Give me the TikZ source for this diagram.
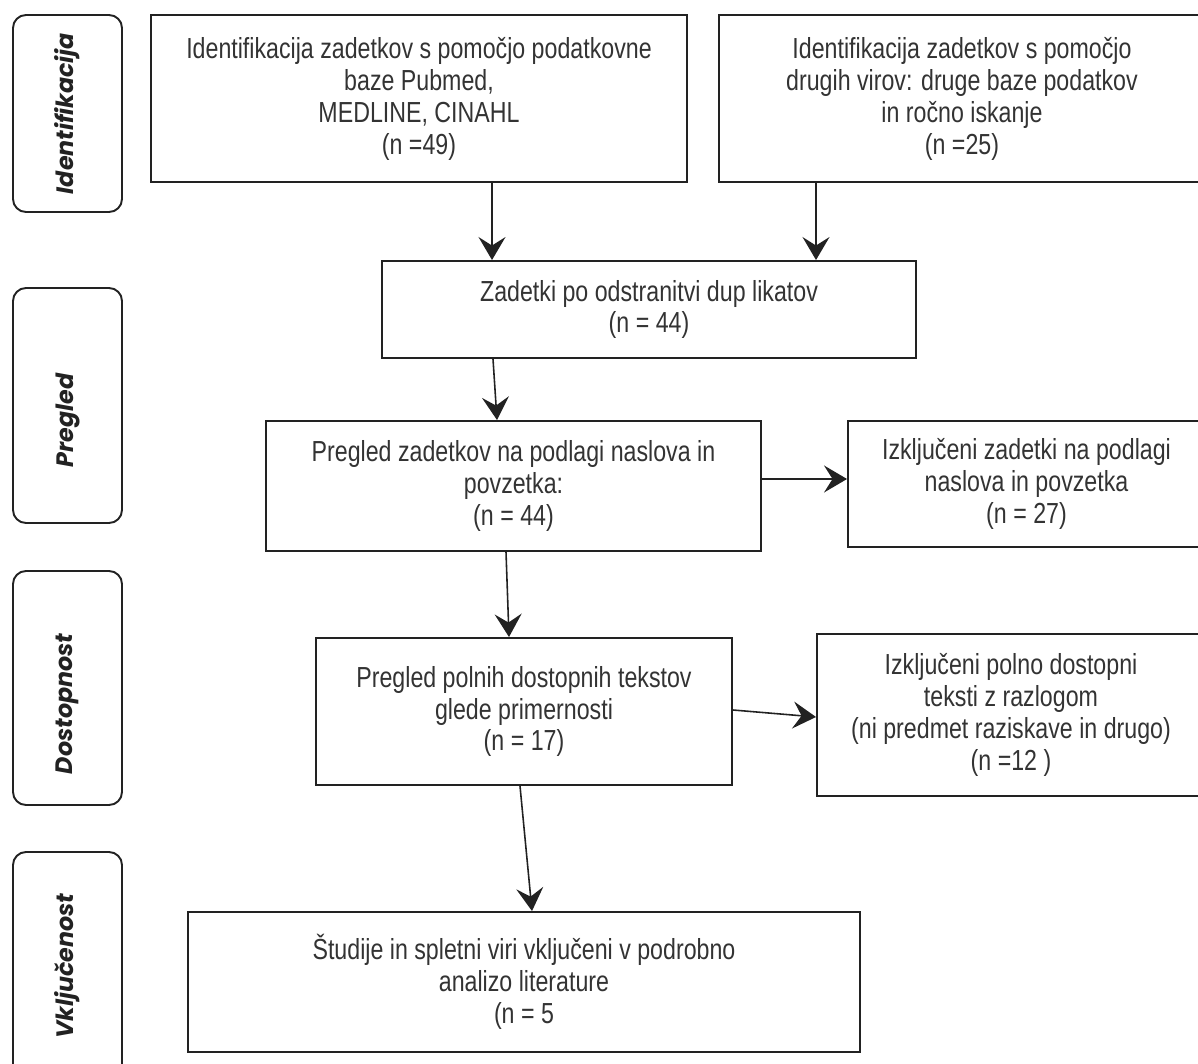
\documentclass[tikz,border=0pt]{standalone}
\usepackage{fontspec}
\setmainfont[FakeStretch=0.8]{Liberation Sans}
\newfontfamily\fazafont{Poppins}
\usetikzlibrary{arrows.meta}
\definecolor{crta}{HTML}{222222}
\definecolor{besedilo}{HTML}{333333}

\begin{document}
\begin{tikzpicture}[
    okvir/.style={draw=crta, line width=1.1pt, text=besedilo, align=center, inner sep=0pt, font=\fontsize{16.5}{18.2}\selectfont},
    faza/.style={draw=crta, line width=1.1pt, rounded corners=0.26cm, rotate=90, inner sep=0pt, minimum height=2.18cm, text=crta, font=\fazafont\bfseries\itshape\fontsize{13.5}{16}\selectfont},
    puscica/.style={draw=crta, line width=0.9pt, -{Stealth[length=4.6mm,width=5.4mm,inset=1.7mm]}}
]
\useasboundingbox (0,0) rectangle (23.96,-21.28);
%faze
\node[faza, minimum width=3.94cm] (identifikacija) at (1.35,-2.27) {Identifikacija};
\node[faza, minimum width=4.7cm] (pregled) at (1.35,-8.11) {Pregled\kern0.6cm};
\node[faza, minimum width=4.68cm] (dostopnost) at (1.35,-13.76) {Dostopnost\kern0.64cm};
\node[faza, minimum width=4.56cm] (vkljucenost) at (1.35,-19.32) {Vključenost};
%okvirji
\node[okvir, minimum width=10.72cm, minimum height=3.34cm] (baze) at (8.38,-1.97) {Identifikacija zadetkov s pomočjo podatkovne\\baze Pubmed,\\MEDLINE, CINAHL\\(n =49)};
\node[okvir, minimum width=9.72cm, minimum height=3.34cm] (drugiviri) at (19.24,-1.97) {Identifikacija zadetkov s pomočjo\\drugih virov: druge baze podatkov\\in ročno iskanje\\(n =25)};
\node[okvir, minimum width=10.68cm, minimum height=1.94cm] (duplikati) at (12.98,-6.19) {Zadetki po odstranitvi dup likatov\\(n = 44)};
\node[okvir, minimum width=9.9cm, minimum height=2.6cm] (naslovi) at (10.27,-9.72) {Pregled zadetkov na podlagi naslova in\\povzetka:\\(n = 44)};
\node[okvir, minimum width=7.14cm, minimum height=2.52cm] (izkljuceni) at (20.53,-9.68) {Izključeni zadetki na podlagi\\naslova in povzetka\\(n = 27)};
\node[okvir, minimum width=8.32cm, minimum height=2.94cm] (polnibesedila) at (10.48,-14.23) {Pregled polnih dostopnih tekstov\\glede primernosti\\(n = 17)};
\node[okvir, minimum width=7.76cm, minimum height=3.24cm] (izkljucenipolni) at (20.22,-14.3) {Izključeni polno dostopni\\teksti z razlogom\\(ni predmet raziskave in drugo)\\(n =12 )};
\node[okvir, minimum width=13.44cm, minimum height=2.8cm] (vkljuceni) at (10.48,-19.64) {Študije in spletni viri vključeni v podrobno\\analizo literature\\(n = 5};
%puščice
\draw[puscica] ([xshift=1.46cm]baze.south) -- ([xshift=-3.14cm]duplikati.north);
\draw[puscica] ([xshift=-2.92cm]drugiviri.south) -- ([xshift=3.34cm]duplikati.north);
\draw[puscica] ([xshift=-3.12cm]duplikati.south) -- ([xshift=-0.33cm]naslovi.north);
\draw[puscica] ([yshift=0.14cm]naslovi.east) -- ([yshift=0.1cm]izkljuceni.west);
\draw[puscica] ([xshift=-0.15cm]naslovi.south) -- ([xshift=-0.3cm]polnibesedila.north);
\draw[puscica] ([yshift=0.03cm]polnibesedila.east) -- ([yshift=-0.04cm]izkljucenipolni.west);
\draw[puscica] ([xshift=-0.08cm]polnibesedila.south) -- ([xshift=0.16cm]vkljuceni.north);
\end{tikzpicture}
\end{document}
